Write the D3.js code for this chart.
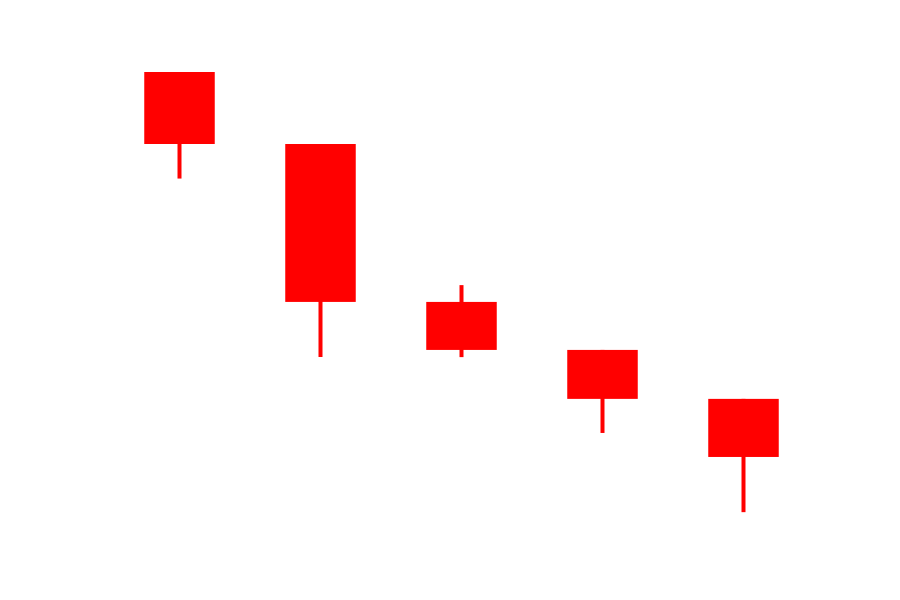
<!DOCTYPE html>
<html>
<head>
<meta charset="utf-8">
<script src="https://cdn.jsdelivr.net/npm/d3@7"></script>
<style>
html,body{margin:0;padding:0;background:#fff;}
svg{display:block;}
</style>
</head>
<body>
<svg id="chart" width="900" height="600"></svg>
<script>
const categories = ["1", "2", "3", "4", "5"];
const openVals  = [97.5, 82.5, 49.6, 39.6, 29.4];
const highVals  = [97.5, 82.5, 53.1, 39.6, 29.4];
const lowVals   = [75.3, 38.1, 38.1, 22.3, 5.8];
const closeVals = [82.5, 49.6, 39.6, 29.4, 17.3];

const data = categories.map((c, i) => ({
  c, open: openVals[i], high: highVals[i], low: lowVals[i], close: closeVals[i]
}));

const svg = d3.select("#chart");
const x = d3.scaleBand().domain(categories).range([109, 814]).paddingInner(0.5).paddingOuter(0.25);
const y = d3.scaleLinear().domain([0, 100]).range([540, 60]);

const g = svg.append("g");
const candles = g.selectAll("g.candle").data(data).join("g").attr("class", "candle");

candles.append("line")
  .attr("x1", d => x(d.c) + x.bandwidth() / 2)
  .attr("x2", d => x(d.c) + x.bandwidth() / 2)
  .attr("y1", d => y(d.high))
  .attr("y2", d => y(d.low))
  .attr("stroke", "#ff0000")
  .attr("stroke-width", 4);

candles.append("rect")
  .attr("x", d => x(d.c))
  .attr("width", x.bandwidth())
  .attr("y", d => y(Math.max(d.open, d.close)))
  .attr("height", d => Math.abs(y(d.open) - y(d.close)))
  .attr("fill", "#ff0000");
</script>
</body>
</html>
